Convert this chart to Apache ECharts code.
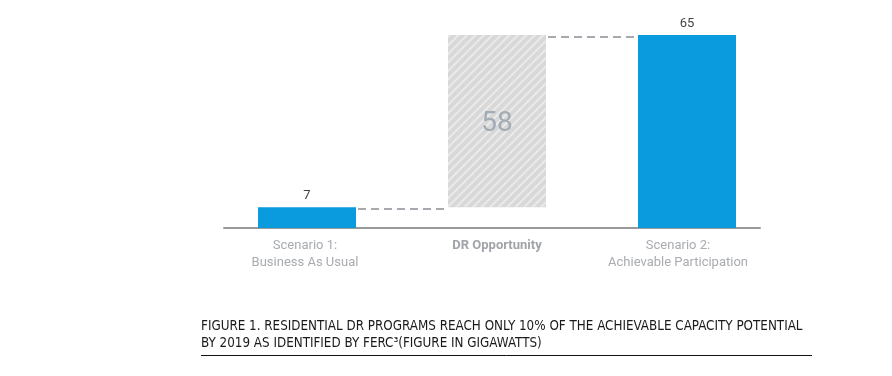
<!DOCTYPE html>
<html>
<head>
<meta charset="utf-8">
<script src="https://cdn.jsdelivr.net/npm/echarts@6/dist/echarts.min.js"></script>
<style>
    html, body { margin: 0; padding: 0; background: #fff; }
    #chart { width: 892px; height: 376px; }
</style>
</head>
<body>
<div id="chart"></div>
<script>
var categories = ["Scenario 1:\nBusiness As Usual", "DR Opportunity", "Scenario 2:\nAchievable Participation"];
var scenarioValues = [7, "-", 65];      // 蓝色柱
var opportunityBase = ["-", 7, "-"];    // 透明底
var opportunityValues = ["-", 58, "-"]; // 灰色斜纹柱
var connectorValues = [7, 65];          // 虚线连接的高度
var captionLines = [
    "FIGURE 1. RESIDENTIAL DR PROGRAMS REACH ONLY 10% OF THE ACHIEVABLE CAPACITY POTENTIAL",
    "BY 2019 AS IDENTIFIED BY FERC\u00b3(FIGURE IN GIGAWATTS)"
];

var BAR_W = 98;
var chart = echarts.init(document.getElementById("chart"));

var labelFont = "Roboto, sans-serif";

var option = {
    animation: false,
    title: {
        text: captionLines.join("\n"),
        left: 196,
        top: 313,
        textStyle: {
            fontFamily: "Liberation Sans Narrow, DejaVu Sans Condensed, sans-serif",
            fontSize: 13.3,
            fontWeight: "normal",
            color: "#1a1a1a",
            lineHeight: 17
        }
    },
    grid: [
        { left: 212, width: 570, top: 35, height: 193 },
        { left: 224, right: 132, top: 35, height: 193 }
    ],
    xAxis: [{
        type: "category",
        gridIndex: 0,
        data: categories,
        axisLine: { show: false },
        axisTick: { show: false },
        axisLabel: {
            interval: 0,
            hideOverlap: false,
            margin: 9,
            fontFamily: labelFont,
            fontSize: 13,
            lineHeight: 17,
            color: "#a8abb0",
            // 各标签的水平微调
            formatter: function (v, i) {
                var tag = ["s1", "b", "s2"][i];
                return v.split("\n").map(function (line) {
                    return "{" + tag + "|" + line + "}";
                }).join("\n");
            },
            rich: {
                s1: { color: "#a8abb0", fontSize: 13, lineHeight: 17, fontFamily: labelFont, padding: [0, 4, 0, 0] },
                b: { fontWeight: "bold", color: "#a0a3a8", fontSize: 13, lineHeight: 17, fontFamily: labelFont },
                s2: { color: "#a8abb0", fontSize: 13, lineHeight: 17, fontFamily: labelFont, padding: [0, 18, 0, 0] }
            }
        }
    }, {
        type: "category",
        gridIndex: 1,
        data: [""],
        axisLine: { show: true, lineStyle: { color: "#999", width: 2 } },
        axisTick: { show: false },
        axisLabel: { show: false }
    }],
    yAxis: [{
        type: "value", gridIndex: 0, min: 0, max: 65, show: false
    }, {
        type: "value", gridIndex: 1, min: 0, max: 65, show: false
    }],
    graphic: [{
        type: "line",
        shape: { x1: 201, y1: 355.5, x2: 812, y2: 355.5 },
        style: { stroke: "#111", lineWidth: 1 }
    }],
    series: [{
        type: "bar",
        name: "base",
        stack: "opp",
        barWidth: BAR_W,
        barGap: "-100%",
        data: opportunityBase,
        itemStyle: { color: "transparent" },
        silent: true
    }, {
        type: "bar",
        name: "opportunity",
        stack: "opp",
        barWidth: BAR_W,
        barGap: "-100%",
        data: opportunityValues,
        itemStyle: {
            color: "#d8d8d8",
            decal: {
                symbol: "rect",
                symbolSize: 1,
                dashArrayX: [[1, 0]],
                dashArrayY: [2, 4],
                rotation: -Math.PI / 4,
                color: "rgba(255,255,255,0.45)"
            }
        },
        label: {
            show: true,
            position: "inside",
            offset: [0, 3],
            fontFamily: labelFont,
            fontSize: 28,
            color: "#a3abb4"
        }
    }, {
        type: "bar",
        name: "scenario",
        stack: "sc",
        barWidth: BAR_W,
        barGap: "-100%",
        data: scenarioValues,
        itemStyle: { color: "#0a9bdf" },
        label: {
            show: true,
            position: "top",
            distance: 5,
            fontFamily: labelFont,
            fontSize: 13,
            color: "#444"
        }
    }, {
        type: "custom",
        name: "connector",
        xAxisIndex: 0,
        yAxisIndex: 0,
        silent: true,
        data: connectorValues.map(function (v, i) { return [i, v]; }),
        renderItem: function (params, api) {
            var p = api.coord([api.value(0), api.value(1)]);
            var band = api.size([1, 0])[0];
            var x1 = p[0] + BAR_W / 2 + 2;
            var x2 = p[0] + band - BAR_W / 2 - 1;
            var y = Math.round(p[1]) + 2;
            return {
                type: "line",
                shape: { x1: x1, y1: y, x2: x2, y2: y },
                style: { stroke: "#a6a9ae", lineWidth: 2, lineDash: [8, 5] }
            };
        }
    }]
};

chart.setOption(option);
</script>
</body>
</html>
